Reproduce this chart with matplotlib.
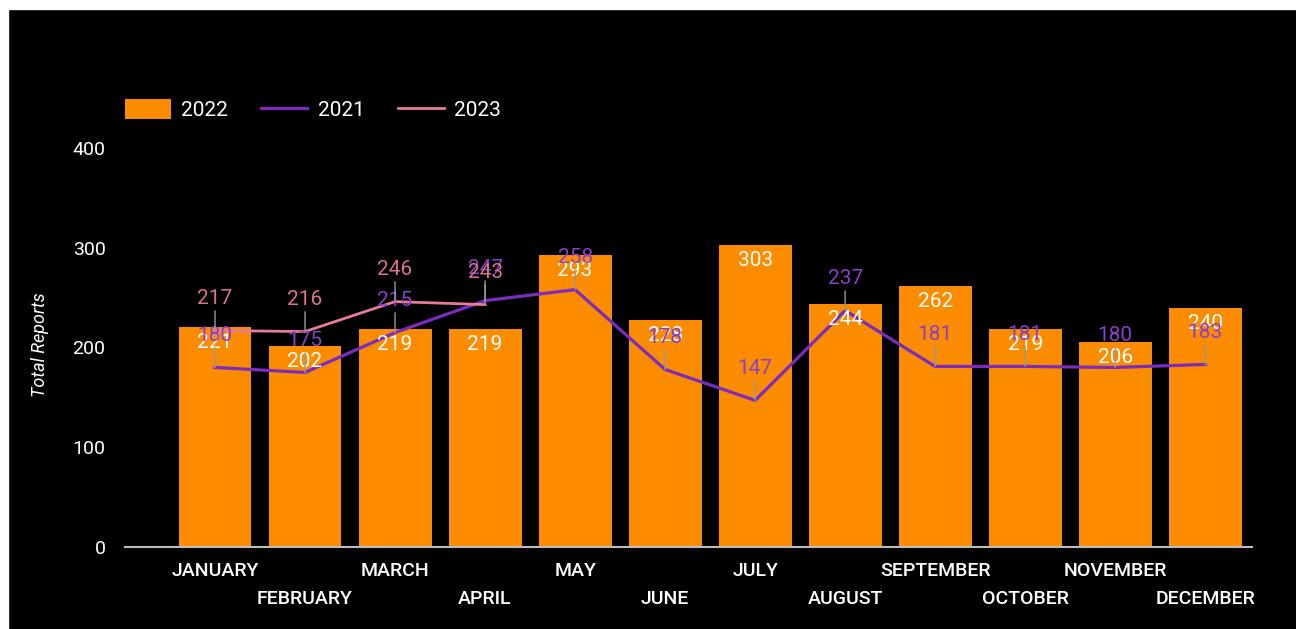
import matplotlib
matplotlib.use("Agg")
import matplotlib.pyplot as plt
import numpy as np
from matplotlib.patches import Rectangle

plt.rcParams["font.family"] = ["Roboto", "DejaVu Sans"]

months = ["JANUARY", "FEBRUARY", "MARCH", "APRIL", "MAY", "JUNE", "JULY",
          "AUGUST", "SEPTEMBER", "OCTOBER", "NOVEMBER", "DECEMBER"]
reports_2022 = [221, 202, 219, 219, 293, 228, 303, 244, 262, 219, 206, 240]
reports_2021 = [180, 175, 215, 247, 258, 178, 147, 237, 181, 181, 180, 183]
reports_2023 = [217, 216, 246, 243]
y_ticks = [0, 100, 200, 300, 400]

ORANGE = "#FB8C00"
PURPLE = "#7B2CBF"
PURPLE_TXT = "#8A3FC8"
PINK = "#E57C98"
PINK_TXT = "#DA7290"
LEADER = "#9A9A9A"

W, H = 1296, 629
fig = plt.figure(figsize=(W / 100, H / 100), dpi=100, facecolor="black")
# thin white frame on top/left like the screenshot
fig.patches.append(Rectangle((0, 0), 8 / W, 1, transform=fig.transFigure, color="white", zorder=-1))
fig.patches.append(Rectangle((0, 1 - 9 / H), 1, 9 / H, transform=fig.transFigure, color="white", zorder=-1))

ax = fig.add_axes([125 / W, 82 / H, 1127 / W, 399 / H], facecolor="black")
x = np.arange(len(months))

bars = ax.bar(x, reports_2022, width=0.81, color=ORANGE, label="2022", zorder=2)
l21, = ax.plot(x, reports_2021, color=PURPLE, lw=2.3, label="2021", zorder=3)
l23, = ax.plot(x[:len(reports_2023)], reports_2023, color=PINK, lw=2.0, label="2023", zorder=4)

# bar value labels (white, inside the top)
for xi, v in zip(x, reports_2022):
    ax.annotate(str(v), (xi, v), xytext=(0, -16), textcoords="offset pixels",
                ha="center", va="center", color="white", fontsize=15, zorder=5)

# line value labels with small leader lines
def line_labels(vals, txt_color, z):
    for xi, v in zip(x, vals):
        ax.annotate(str(v), (xi, v), xytext=(0, 32), textcoords="offset pixels",
                    ha="center", va="center", color=txt_color, fontsize=15, zorder=z,
                    arrowprops=dict(arrowstyle="-", color=LEADER, lw=1,
                                    shrinkA=0, shrinkB=0))

line_labels(reports_2021, PURPLE_TXT, 6)
line_labels(reports_2023, PINK_TXT, 7)

ax.set_xlim(-1.0, 11.52)
ax.set_ylim(0, 400)
ax.set_yticks(y_ticks)
# staggered month labels: even months on major ticks, odd months on minor ticks further down
ax.set_xticks(x[::2])
ax.set_xticklabels(months[::2], fontsize=14, fontweight="medium", color="white")
ax.set_xticks(x[1::2], minor=True)
ax.set_xticklabels(months[1::2], minor=True, fontsize=14, fontweight="medium", color="white")
ax.tick_params(axis="x", which="major", length=0, pad=11)
ax.tick_params(axis="x", which="minor", length=0, pad=31)
ax.tick_params(axis="y", length=0, pad=14, labelcolor="white", labelsize=14)

for s in ("top", "right", "left"):
    ax.spines[s].set_visible(False)
ax.spines["bottom"].set_color("#BDBDBD")
ax.spines["bottom"].set_linewidth(1.5)
ax.spines["bottom"].set_zorder(6)

fig.text(40 / W, 1 - 345 / H, "Total Reports", rotation=90, color="white",
         fontsize=13, style="italic", ha="center", va="center")

fig.legend([bars, l21, l23], ["2022", "2021", "2023"],
           loc="upper left", bbox_to_anchor=(125 / W, 1 - 99 / H), ncol=3,
           frameon=False, fontsize=15, labelcolor="white",
           handlelength=2.2, handleheight=1.1, handletextpad=0.5,
           columnspacing=1.6, borderpad=0, borderaxespad=0)

fig.savefig("out.png", dpi=100, facecolor=fig.get_facecolor())
